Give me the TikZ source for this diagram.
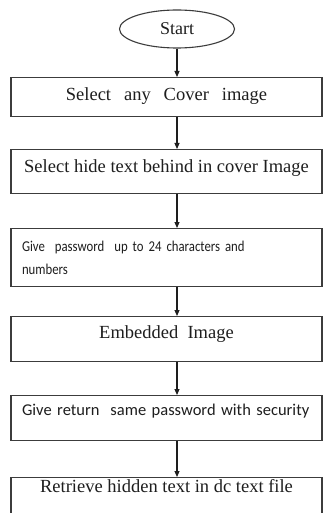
\documentclass[tikz,border=0pt]{standalone}
\usepackage{fontspec}
\setmainfont{Liberation Serif}
\newfontfamily\calfont{Carlito}
\newfontfamily\calnarrow[FakeStretch=0.85]{Carlito}
\usetikzlibrary{arrows.meta,shapes.geometric}
\definecolor{FrameGrey}{HTML}{3C3C3C}
\definecolor{InkBlack}{HTML}{1E1E1E}
\newcommand{\wgap}{\hspace{0.7em}}

\begin{document}
\begin{tikzpicture}[x=1pt, y=-1pt,
  % ── node styles ──────────────────────────────────────────
  terminal/.style={
    ellipse, draw=FrameGrey, line width=1.1pt,
    minimum width=115pt, minimum height=38pt,
    inner sep=0pt, text=InkBlack,
    font=\fontsize{18}{21}\selectfont
  },
  stage/.style={
    draw=FrameGrey, line width=1.1pt, anchor=north,
    minimum width=311pt, inner xsep=0pt, inner ysep=0pt,
    text=InkBlack, font=\fontsize{18.5}{21}\selectfont
  },
  sansstage/.style={
    stage, text width=289pt, inner xsep=11pt, align=left,
    font=\calfont\fontsize{16.5}{23}\selectfont
  },
  % ── arrow style ──────────────────────────────────────────
  arr/.style={-{Triangle[length=6pt,width=5pt]}, line width=1.1pt, color=InkBlack}
]
\clip (0,0) rectangle (323,513);
\fill[white] (0,0) rectangle (323,513);

%% ── Start ──
\node[terminal] (ST) at (177,29) {Start};

%% ── Steps ──
\node[stage, text height=23pt, text depth=16pt] (CI) at (166.5,77)
  {Select\wgap any\wgap Cover\wgap image};
\node[stage, text height=23pt, text depth=21pt] (HT) at (166.5,149)
  {Select hide text behind in cover Image};
\node[sansstage, minimum height=58pt, font=\calnarrow\fontsize{15}{23}\selectfont] (PW) at (166.5,228)
  {Give\ \ password\ \ up to 24 characters and\\numbers};
\node[stage, text height=22pt, text depth=23pt] (EI) at (166.5,316)
  {Embedded\ \ Image};
\node[sansstage, text height=20pt, text depth=25pt] (RP) at (166.5,395)
  {Give return\ \ same password with security};
\node[stage, text height=15pt, text depth=30pt] (RT) at (166.5,477)
  {Retrieve hidden text in dc text file};

%% ── Edges ──
\draw[arr] (ST.south) -- (ST.south |- CI.north);
\draw[arr] (ST.south |- CI.south) -- (ST.south |- HT.north);
\draw[arr] (ST.south |- HT.south) -- (ST.south |- PW.north);
\draw[arr] (ST.south |- PW.south) -- (ST.south |- EI.north);
\draw[arr] (ST.south |- EI.south) -- (ST.south |- RP.north);
\draw[arr] (ST.south |- RP.south) -- (ST.south |- RT.north);

\end{tikzpicture}
\end{document}
